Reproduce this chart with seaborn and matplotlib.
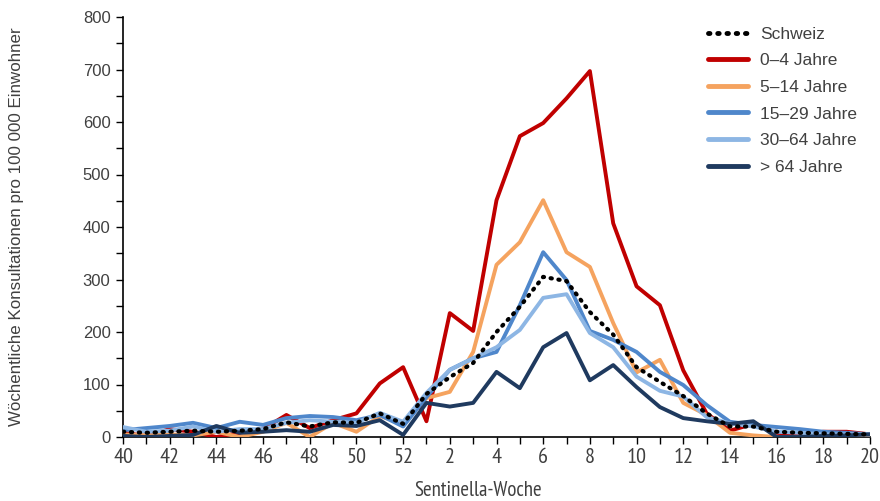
import matplotlib
matplotlib.use("Agg")
import matplotlib.pyplot as plt
import seaborn as sns
import pandas as pd
import numpy as np
from matplotlib.ticker import MultipleLocator
from matplotlib import font_manager as fm

weeks = [40, 41, 42, 43, 44, 45, 46, 47, 48, 49, 50, 51, 52,
         1, 2, 3, 4, 5, 6, 7, 8, 9, 10, 11, 12, 13, 14, 15, 16, 17, 18, 19, 20]

schweiz = [10, 8, 10, 12, 10, 12, 15, 28, 20, 28, 27, 45, 25,
           82, 114, 141, 200, 248, 305, 297, 238, 195, 133, 105, 78, 45, 20, 20, 10, 8, 7, 6, 5]
age_0_4 = [8, 2, 15, 10, 0, 8, 15, 42, 17, 32, 45, 102, 133,
           30, 236, 202, 451, 573, 598, 645, 697, 407, 287, 251, 127, 45, 12, 25, 8, 5, 10, 10, 5]
age_5_14 = [5, 3, 5, 3, 10, 0, 10, 27, 0, 27, 10, 40, 25,
            74, 86, 162, 328, 371, 451, 352, 324, 217, 123, 147, 65, 42, 8, 3, 0, 0, 0, 0, 3]
age_15_29 = [13, 17, 21, 27, 17, 29, 23, 36, 40, 38, 32, 42, 20,
             76, 128, 150, 162, 251, 352, 299, 202, 185, 162, 124, 99, 61, 29, 23, 19, 15, 10, 8, 5]
age_30_64 = [19, 10, 12, 20, 10, 15, 15, 27, 32, 29, 27, 46, 29,
             84, 128, 150, 171, 204, 265, 272, 198, 171, 115, 88, 77, 38, 26, 20, 10, 8, 5, 5, 5]
age_64p = [2, 0, 2, 4, 21, 8, 10, 13, 10, 23, 21, 32, 4,
           65, 58, 65, 124, 93, 171, 198, 108, 137, 95, 57, 36, 30, 25, 30, 0, 0, 2, 3, 5]

labels = ["Schweiz", "0–4 Jahre", "5–14 Jahre", "15–29 Jahre", "30–64 Jahre", "> 64 Jahre"]
colors = ["#000000", "#C00000", "#F5A35F", "#4F87CB", "#8DB6E4", "#1F3A5F"]
series = [schweiz, age_0_4, age_5_14, age_15_29, age_30_64, age_64p]

sns.set_theme(style="white")
plt.rcParams['font.family'] = ['Liberation Sans', 'DejaVu Sans']

# look for a condensed / narrow sans font for the x axis texts
narrow_fp = None
narrow_pref = []
for f in fm.fontManager.ttflist:
    nm = f.name
    st = str(f.stretch)
    if f.style != "normal" or str(f.weight) not in ("400", "normal", "regular"):
        continue
    score = None
    if "Liberation Sans Narrow" in nm:
        score = 0
    elif "Narrow" in nm and "Sans" in nm:
        score = 1
    elif "Condensed" in nm and "Sans" in nm:
        score = 2
    elif st in ("condensed", "semi-condensed") and "Sans" in nm:
        score = 3
    if score is not None:
        narrow_pref.append((score, f.fname))
if narrow_pref:
    narrow_pref.sort()
    narrow_fp = narrow_pref[0][1]

def xfont(size):
    if narrow_fp:
        return fm.FontProperties(fname=narrow_fp, size=size)
    return fm.FontProperties(family=['Liberation Sans', 'DejaVu Sans'], size=size * 0.88)

fig = plt.figure(figsize=(8.8, 5.01), dpi=100)
ax = fig.add_axes([123/880, 1-437/501, (870-123)/880, (437-17)/501])

pos = np.arange(len(weeks))
draw_order = [1, 2, 3, 4, 5, 0]
for i in draw_order:
    df = pd.DataFrame({"pos": pos, "val": series[i]})
    if i == 0:
        sns.lineplot(data=df, x="pos", y="val", ax=ax, color=colors[i], lw=3.0,
                     linestyle=(0, (0.3, 1.6)), dash_capstyle="round", label=labels[i], zorder=5)
    else:
        sns.lineplot(data=df, x="pos", y="val", ax=ax, color=colors[i], lw=2.8,
                     label=labels[i], zorder=3)

h, l = ax.get_legend_handles_labels()
hm = dict(zip(l, h))
leg = ax.legend([hm[x] for x in labels], labels, loc="upper right", frameon=False,
                fontsize=12.5, handlelength=2.3, labelspacing=0.66, handletextpad=0.7,
                bbox_to_anchor=(0.995, 1.0), borderaxespad=0.15)
for t in leg.get_texts():
    t.set_color("#404040")
for lh in leg.get_lines():
    lh.set_linewidth(3.5)
    lh.set_solid_capstyle("round")

ax.set_xlim(0, len(weeks) - 1)
ax.set_ylim(0, 800)
ax.set_xticks(pos)
ax.set_xticklabels([str(w) if j % 2 == 0 else "" for j, w in enumerate(weeks)],
                   fontproperties=xfont(16), color="#404040")
ax.yaxis.set_major_locator(MultipleLocator(100))
ax.yaxis.set_minor_locator(MultipleLocator(50))
ax.tick_params(axis="y", which="both", direction="out", length=5, width=1, color="black",
               left=True, labelsize=12, labelcolor="#404040", pad=4)
ax.tick_params(axis="x", which="major", direction="out", length=5, width=1, color="black",
               bottom=True, pad=3)

for s in ["top", "right"]:
    ax.spines[s].set_visible(False)
for s in ["left", "bottom"]:
    ax.spines[s].set_color("black")
    ax.spines[s].set_linewidth(1.2)

ax.set_xlabel("Sentinella-Woche", fontproperties=xfont(15), color="#404040")
ax.xaxis.set_label_coords((478 - 123) / 747, -(481 - 437) / 420)
ax.set_ylabel("Wöchentliche Konsultationen pro 100 000 Einwohner", fontsize=12.2,
              color="#404040")
ax.yaxis.set_label_coords(-(123 - 24) / 747, 0.5)

fig.savefig("out.png", dpi=100)
